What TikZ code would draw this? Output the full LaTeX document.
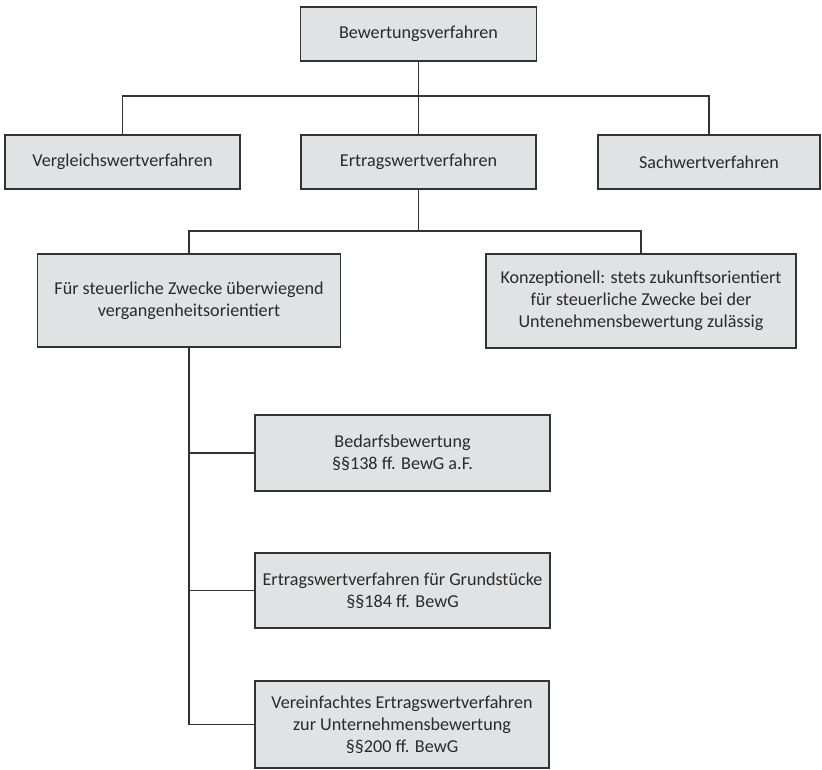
\documentclass[tikz,border=0pt]{standalone}
\usepackage{fontspec}
\setmainfont{Carlito}
\definecolor{boxfill}{HTML}{E1E2E4}
\definecolor{boxline}{HTML}{333333}
\definecolor{txt}{HTML}{2A2A2A}
\begin{document}
\begin{tikzpicture}[x=0.75pt,y=-0.75pt,
  box/.style={draw=boxline,fill=boxfill,line width=1.1pt,rectangle,align=center,
    text=txt,inner sep=0pt,font=\fontsize{13.6}{16.5}\selectfont},
  conn/.style={draw=boxline,line width=0.9pt}]
\useasboundingbox (0,0) rectangle (822,770);
\node[box,minimum width=236*0.75pt,minimum height=54*0.75pt] (top) at (418.5,34) {Bewertungsverfahren};
\node[box,minimum width=235*0.75pt,minimum height=54*0.75pt] (vgl) at (122.5,162) {Vergleichswertverfahren};
\node[box,minimum width=235*0.75pt,minimum height=54*0.75pt] (ert) at (418.5,162) {Ertragswertverfahren};
\node[box,minimum width=222*0.75pt,minimum height=54*0.75pt] (sach) at (709,162) {Sachwertverfahren};
\node[box,minimum width=303*0.75pt,minimum height=93*0.75pt] (fuer) at (189,300.5) {Für steuerliche Zwecke überwiegend\\vergangenheitsorientiert};
\node[box,minimum width=310*0.75pt,minimum height=94*0.75pt] (konz) at (641,301) {Konzeptionell: stets zukunftsorientiert\\für steuerliche Zwecke bei der\\Untenehmensbewertung zulässig};
\node[box,minimum width=295*0.75pt,minimum height=76*0.75pt] (bed) at (402.5,453) {Bedarfsbewertung\\§§138 ff. BewG a.F.};
\node[box,minimum width=295*0.75pt,minimum height=75*0.75pt] (grund) at (402.5,590.5) {Ertragswertverfahren für Grundstücke\\§§184 ff. BewG};
\node[box,minimum width=294*0.75pt,minimum height=87*0.75pt] (ver) at (402,724.5) {Vereinfachtes Ertragswertverfahren\\zur Unternehmensbewertung\\§§200 ff. BewG};
\coordinate (bus1) at (418.5,96);
\coordinate (bus2) at (418.5,231);
\draw[conn] (top.south) -- (ert.north);
\draw[conn] (vgl.north) |- (bus1) -| (sach.north);
\draw[conn] (ert.south) -- (bus2);
\draw[conn] (fuer.north) |- (bus2) -| (konz.north);
\draw[conn] (fuer.south) |- (bed.west);
\draw[conn] (fuer.south) |- (grund.west);
\draw[conn] (fuer.south) |- (ver.west);
\end{tikzpicture}
\end{document}
